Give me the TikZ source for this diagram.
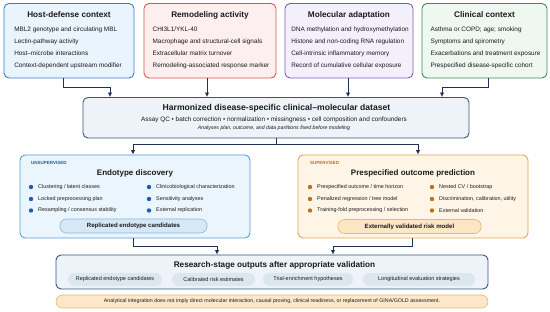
\documentclass[tikz,border=0pt]{standalone}
\usepackage{fontspec}
\setmainfont{Liberation Sans}
\usetikzlibrary{arrows.meta,calc}
\definecolor{arrowc}{HTML}{1E3250}
\definecolor{bAfill}{HTML}{EAF4FD}\definecolor{bAdraw}{HTML}{3A7FC0}
\definecolor{bBfill}{HTML}{FDEFEF}\definecolor{bBdraw}{HTML}{D9534F}
\definecolor{bCfill}{HTML}{F3F0FB}\definecolor{bCdraw}{HTML}{7E5BB5}
\definecolor{bDfill}{HTML}{EEF8F0}\definecolor{bDdraw}{HTML}{3D8B4F}
\definecolor{hfill}{HTML}{EDF3F9}\definecolor{hdraw}{HTML}{34587A}
\definecolor{lfill}{HTML}{EAF5FD}\definecolor{ldraw}{HTML}{5B9BD5}
\definecolor{ldot}{HTML}{1F5FA8}\definecolor{lpill}{HTML}{D6E8F5}\definecolor{lpilld}{HTML}{8EB8DA}
\definecolor{rfill}{HTML}{FEF5E7}\definecolor{rdraw}{HTML}{E6A553}
\definecolor{rdot}{HTML}{C0701A}\definecolor{rpill}{HTML}{FCE6C4}\definecolor{rpilld}{HTML}{EBB86B}
\definecolor{gpill}{HTML}{DCE6EF}
\definecolor{nfill}{HTML}{FCE8C8}\definecolor{ndraw}{HTML}{E8B870}
\definecolor{txt}{HTML}{1A1A1A}
\begin{document}
\begin{tikzpicture}[x=1pt,y=-1pt,
  box/.style={rectangle,rounded corners=5pt,line width=0.9pt,inner sep=0pt},
  ttl/.style={font=\fontsize{8.2}{9}\selectfont\bfseries,text=txt,inner sep=0pt},
  body/.style={font=\fontsize{6.4}{12}\selectfont,text=txt,align=left,inner sep=0pt},
  bul/.style={font=\fontsize{5.4}{6}\selectfont,text=txt,anchor=west,inner sep=0pt},
  tag/.style={font=\fontsize{4.5}{5}\selectfont\bfseries,anchor=west,inner sep=0pt},
  pill/.style={rectangle,rounded corners=6.5pt,inner sep=0pt},
  ldt/.style={circle,fill=ldot,inner sep=0pt,minimum size=4.4pt},
  rdt/.style={circle,fill=rdot,inner sep=0pt,minimum size=4.4pt},
  arr/.style={draw=arrowc,line width=1pt,-{Latex[length=4.5pt,width=4.5pt]}},
  ln/.style={draw=arrowc,line width=1pt}]
\useasboundingbox (0,0) rectangle (550,312);
% top boxes
\node[box,fill=bAfill,draw=bAdraw,minimum width=130pt,minimum height=74.5pt] (b1) at (69,40.75) {};
\node[box,fill=bBfill,draw=bBdraw,minimum width=132pt,minimum height=74.5pt] (b2) at (210,40.75) {};
\node[box,fill=bCfill,draw=bCdraw,minimum width=128pt,minimum height=74.5pt] (b3) at (349,40.75) {};
\node[box,fill=bDfill,draw=bDdraw,minimum width=125pt,minimum height=74.5pt] (b4) at (484.5,40.75) {};
\node[ttl] (t1) at (69,15) {Host-defense context};
\node[ttl] (t2) at (210,15) {Remodeling activity};
\node[ttl] (t3) at (349,15) {Molecular adaptation};
\node[ttl] (t4) at (484.5,15) {Clinical context};
\node[body] (x1) at (68,47.5) {MBL2 genotype and circulating MBL\\Lectin-pathway activity\\Host--microbe interactions\\Context-dependent upstream modifier};
\node[body] (x2) at (211,47.5) {CHI3L1/YKL-40\\Macrophage and structural-cell signals\\Extracellular matrix turnover\\Remodeling-associated response marker};
\node[body] (x3) at (350,47.5) {DNA methylation and hydroxymethylation\\Histone and non-coding RNA regulation\\Cell-intrinsic inflammatory memory\\Record of cumulative cellular exposure};
\node[body] (x4) at (485.5,47.5) {Asthma or COPD; age; smoking\\Symptoms and spirometry\\Exacerbations and treatment exposure\\Prespecified disease-specific cohort};
% harmonized box
\node[box,fill=hfill,draw=hdraw,minimum width=386pt,minimum height=40.5pt] (h) at (276,117.75) {};
\node[ttl,font=\fontsize{8.6}{9}\selectfont\bfseries] (ht) at (276.5,108.5) {Harmonized disease-specific clinical--molecular dataset};
\node[body] (hs) at (274,120) {Assay QC • batch correction • normalization • missingness • cell composition and confounders};
\node[body,font=\fontsize{5.2}{6}\selectfont\itshape] (hi) at (274,128.5) {Analyses plan, outcome, and data partitions fixed before modeling};
\draw[arr] (b1.south -| 63,0) -- (63,88) -| (h.north -| 110,0);
\draw[arr] (b2.south -| 207,0) -- (h.north -| 207,0);
\draw[arr] (b3.south -| 348,0) -- (h.north -| 348,0);
\draw[arr] (b4.south -| 488,0) -- (488,88) -| (h.north -| 442,0);
% left and right boxes
\node[box,fill=lfill,draw=ldraw,minimum width=230pt,minimum height=83pt] (L) at (135,196.5) {};
\node[box,fill=rfill,draw=rdraw,minimum width=230pt,minimum height=83pt] (R) at (413,196.5) {};
\coordinate (j) at (276,145);
\draw[ln] (h.south) -- (j);
\draw[arr] (j) -| (L.north -| 133,0);
\draw[arr] (j) -| (R.north -| 418,0);
\node[tag,text=ldot] (lt) at (31,163) {UNSUPERVISED};
\node[tag,text=rdot] (rt) at (310,163) {SUPERVISED};
\node[ttl,font=\fontsize{8}{9}\selectfont\bfseries] (Lt) at (135,173) {Endotype discovery};
\node[ttl,font=\fontsize{8}{9}\selectfont\bfseries] (Rt) at (413,173) {Prespecified outcome prediction};
% left bullets
\node[ldt] (ld1) at (31,187) {}; \node[bul] (la1) at (38,187) {Clustering / latent classes};
\node[ldt] (ld2) at (31,199) {}; \node[bul] (la2) at (38,199) {Locked preprocessing plan};
\node[ldt] (ld3) at (31,210.5) {}; \node[bul] (la3) at (38,210.5) {Resampling / consensus stability};
\node[ldt] (ld4) at (149,187) {}; \node[bul] (lb1) at (156,187) {Clinicobiological characterization};
\node[ldt] (ld5) at (149,199) {}; \node[bul] (lb2) at (156,199) {Sensitivity analyses};
\node[ldt] (ld6) at (149,210.5) {}; \node[bul] (lb3) at (156,210.5) {External replication};
% right bullets
\node[rdt] (rd1) at (310,187) {}; \node[bul] (ra1) at (317,187) {Prespecified outcome / time horizon};
\node[rdt] (rd2) at (310,199) {}; \node[bul] (ra2) at (317,199) {Penalized regression / tree model};
\node[rdt] (rd3) at (310,210.5) {}; \node[bul] (ra3) at (317,210.5) {Training-fold preprocessing / selection};
\node[rdt] (rd4) at (432,187) {}; \node[bul] (rb1) at (439,187) {Nested CV / bootstrap};
\node[rdt] (rd5) at (432,199) {}; \node[bul] (rb2) at (439,199) {Discrimination, calibration, utility};
\node[rdt] (rd6) at (432,210.5) {}; \node[bul] (rb3) at (439,210.5) {External validation};
\node[pill,fill=lpill,draw=lpilld,line width=0.6pt,minimum width=147pt,minimum height=14pt,font=\fontsize{6.1}{7}\selectfont\bfseries,text=txt] (lp) at (133.5,226) {Replicated endotype candidates};
\node[pill,fill=rpill,draw=rpilld,line width=0.6pt,minimum width=143pt,minimum height=14pt,font=\fontsize{6.1}{7}\selectfont\bfseries,text=txt] (rp) at (409.5,226.5) {Externally validated risk model};
% bottom box
\node[box,fill=hfill,draw=hdraw,minimum width=432pt,minimum height=34pt] (B) at (272,272) {};
\draw[arr] (L.south -| 133,0) -- (133,247) -| (B.north -| 217,0);
\draw[arr] (R.south -| 412,0) -- (412,247) -| (B.north -| 333,0);
\node[ttl] (Bt) at (274.5,265) {Research-stage outputs after appropriate validation};
\tikzset{gp/.style={pill,fill=gpill,minimum height=13pt,font=\fontsize{5.5}{6}\selectfont,text=txt}}
\node[gp,minimum width=94pt] (p1) at (115,279.5) {Replicated endotype candidates};
\node[gp,minimum width=83pt] (p2) at (213.5,279.5) {Calibrated risk estimates};
\node[gp,minimum width=90pt] (p3) at (308,279.5) {Trial-enrichment hypotheses};
\node[gp,minimum width=112pt] (p4) at (419,279.5) {Longitudinal evaluation strategies};
% note
\node[pill,fill=nfill,draw=ndraw,line width=0.6pt,minimum width=432pt,minimum height=13pt,font=\fontsize{5.3}{6}\selectfont,text=txt] (n) at (272,301.5) {Analytical integration does not imply direct molecular interaction, causal proving, clinical readiness, or replacement of GINA/GOLD assessment.};
\end{tikzpicture}
\end{document}
